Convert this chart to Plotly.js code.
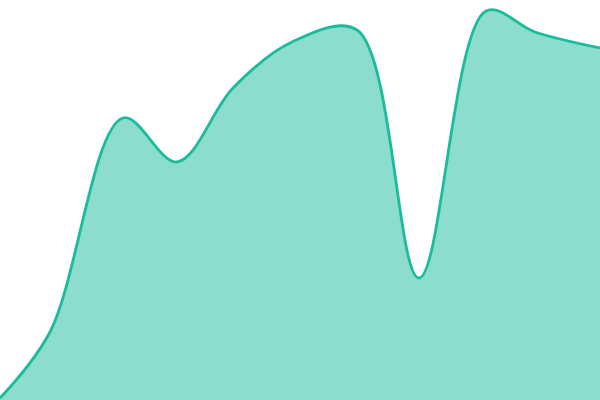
<!DOCTYPE html>
<html>
<head>
<meta charset="utf-8">
<script src="https://cdn.plot.ly/plotly-3.0.1.min.js"></script>
<style>
  html, body { margin: 0; padding: 0; background: #fff; }
  #chart { width: 600px; height: 400px; }
</style>
</head>
<body>
<div id="chart"></div>
<script>
const xs = [0, 50, 123, 177, 233, 292, 357, 419, 486, 535, 600];
const values = [2, 68, 282, 238, 312, 358, 370, 122, 389, 368, 352];

const trace = {
  type: "scatter",
  mode: "lines",
  x: xs,
  y: values,
  fill: "tozeroy",
  fillcolor: "rgba(26,188,156,0.5)",
  line: { color: "#1abc9c", width: 2.8, shape: "spline", smoothing: 1 },
  hoverinfo: "skip",
};

const layout = {
  width: 600,
  height: 400,
  margin: { l: 0, r: 0, t: 0, b: 0 },
  paper_bgcolor: "#fff",
  plot_bgcolor: "#fff",
  showlegend: false,
  xaxis: { range: [0, 600], visible: false, fixedrange: true },
  yaxis: { range: [0, 400], visible: false, fixedrange: true },
};

Plotly.newPlot("chart", [trace], layout, { displayModeBar: false, staticPlot: true });
</script>
</body>
</html>
